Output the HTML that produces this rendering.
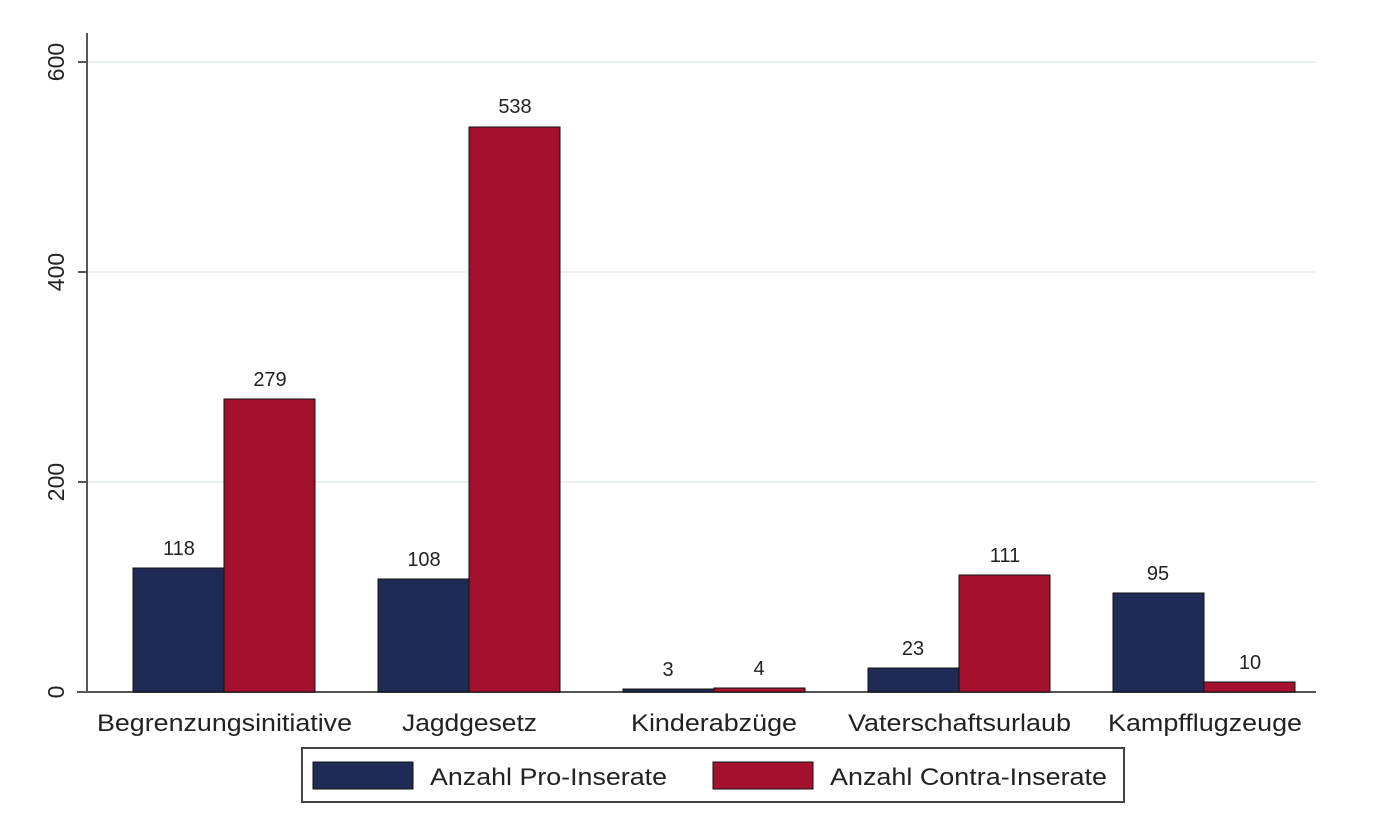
<!DOCTYPE html>
<html><head><style>body{margin:0;background:#fff}</style></head><body>
<svg width="1400" height="831" xmlns="http://www.w3.org/2000/svg" font-family="Liberation Sans, sans-serif">
<rect width="1400" height="831" fill="#fff"/>
<g stroke="#eaf0f3" stroke-width="2">
<line x1="88" y1="62" x2="1316" y2="62"/><line x1="88" y1="272" x2="1316" y2="272"/><line x1="88" y1="482" x2="1316" y2="482"/>
</g>
<g stroke="#555" stroke-width="2">
<line x1="87" y1="33" x2="87" y2="693"/><line x1="77" y1="692" x2="1316" y2="692"/>
<line x1="78" y1="62" x2="87" y2="62"/><line x1="78" y1="272" x2="87" y2="272"/><line x1="78" y1="482" x2="87" y2="482"/>
</g>
<g font-size="23" fill="#222" text-anchor="middle">
<text transform="translate(64,62) rotate(-90)">600</text>
<text transform="translate(64,272) rotate(-90)">400</text>
<text transform="translate(64,482) rotate(-90)">200</text>
<text transform="translate(64,692) rotate(-90)">0</text>
</g>
<g stroke="#111" stroke-width="1">
<rect x="133" y="568" width="91" height="124" fill="#1f2b55"/>
<rect x="224" y="399" width="91" height="293" fill="#a3112f"/>
<rect x="378" y="579" width="91" height="113" fill="#1f2b55"/>
<rect x="469" y="127" width="91" height="565" fill="#a3112f"/>
<rect x="623" y="689" width="91" height="3" fill="#1f2b55"/>
<rect x="714" y="688" width="91" height="4" fill="#a3112f"/>
<rect x="868" y="668" width="91" height="24" fill="#1f2b55"/>
<rect x="959" y="575" width="91" height="117" fill="#a3112f"/>
<rect x="1113" y="593" width="91" height="99" fill="#1f2b55"/>
<rect x="1204" y="682" width="91" height="10" fill="#a3112f"/>
</g>
<g font-size="20" fill="#222" text-anchor="middle">
<text x="179" y="555">118</text><text x="270" y="386">279</text>
<text x="424" y="566">108</text><text x="515" y="113">538</text>
<text x="668" y="676">3</text><text x="759" y="675">4</text>
<text x="913" y="655">23</text><text x="1005" y="562">111</text>
<text x="1158" y="580">95</text><text x="1250" y="669">10</text>
</g>
<g font-size="24" fill="#222">
<text x="97" y="731" textLength="255" lengthAdjust="spacingAndGlyphs">Begrenzungsinitiative</text>
<text x="402" y="731" textLength="135" lengthAdjust="spacingAndGlyphs">Jagdgesetz</text>
<text x="631" y="731" textLength="166" lengthAdjust="spacingAndGlyphs">Kinderabzüge</text>
<text x="848" y="731" textLength="223" lengthAdjust="spacingAndGlyphs">Vaterschaftsurlaub</text>
<text x="1108" y="731" textLength="194" lengthAdjust="spacingAndGlyphs">Kampfflugzeuge</text>
</g>
<rect x="302" y="748" width="822" height="54" fill="#fff" stroke="#444" stroke-width="2"/>
<rect x="313" y="762" width="100" height="27" fill="#1f2b55" stroke="#111"/>
<rect x="713" y="762" width="100" height="27" fill="#a3112f" stroke="#111"/>
<g font-size="24" fill="#222">
<text x="430" y="785" textLength="237" lengthAdjust="spacingAndGlyphs">Anzahl Pro-Inserate</text>
<text x="830" y="785" textLength="277" lengthAdjust="spacingAndGlyphs">Anzahl Contra-Inserate</text>
</g>
</svg>
</body></html>
